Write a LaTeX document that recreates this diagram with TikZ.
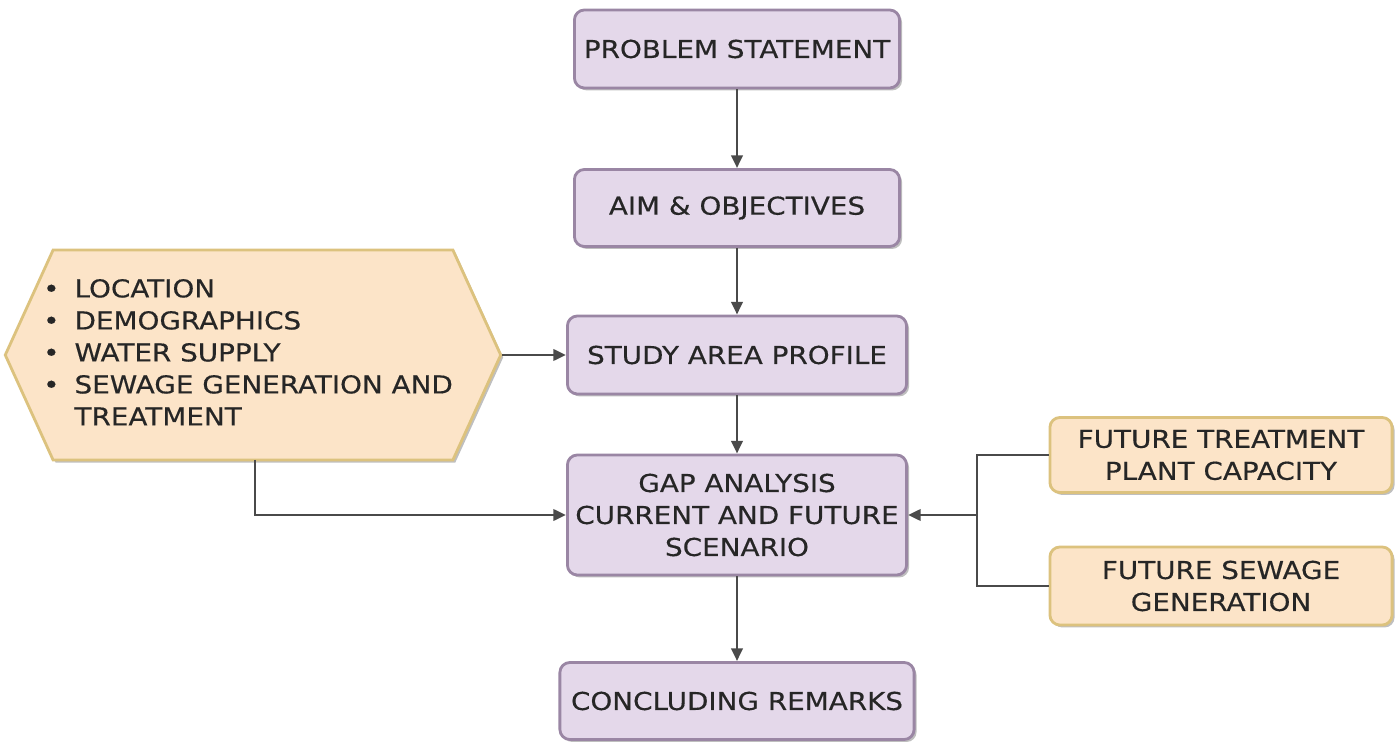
\documentclass[tikz,border=0pt]{standalone}
\usepackage{fontspec}
\setmainfont{DejaVu Sans}[FakeStretch=1.13,FakeBold=0.4]
\usetikzlibrary{arrows.meta,shapes.symbols,shadows}
\definecolor{pfill}{HTML}{E4D8EA}
\definecolor{pdraw}{HTML}{9A86A4}
\definecolor{ofill}{HTML}{FCE4C8}
\definecolor{odraw}{HTML}{DCC27E}
\definecolor{lcol}{HTML}{4A4A4A}
\begin{document}
\begin{tikzpicture}[x=0.01cm,y=-0.01cm,
  font=\fontsize{7}{9.1}\selectfont,
  shd/.style={drop shadow={shadow xshift=0.7pt,shadow yshift=-0.7pt,fill=black,opacity=0.25}},
  pbox/.style={draw=pdraw,fill=pfill,line width=0.8pt,rounded corners=0.1cm,align=center,inner sep=0pt,shd,text=black!85},
  obox/.style={draw=odraw,fill=ofill,line width=0.8pt,rounded corners=0.1cm,align=center,inner sep=0pt,shd,text=black!85},
  hexbox/.style={signal,signal to=west and east,signal pointer angle=131,draw=odraw,fill=ofill,line width=0.8pt,inner sep=0pt,shd,text=black!85},
  conn/.style={draw=lcol,line width=0.8pt,-{Triangle[length=3.6pt,width=3.2pt]}},
  plain/.style={draw=lcol,line width=0.8pt}]
\useasboundingbox (0,0) rectangle (1400,743);
\node[pbox,minimum width=3.25cm,minimum height=0.78cm] (ps) at (737,49) {PROBLEM STATEMENT};
\node[pbox,minimum width=3.25cm,minimum height=0.77cm] (aim) at (737,208) {AIM \& OBJECTIVES};
\node[pbox,minimum width=3.39cm,minimum height=0.78cm] (sap) at (737,355) {STUDY AREA PROFILE};
\node[pbox,minimum width=3.39cm,minimum height=1.20cm] (gap) at (737,515) {GAP ANALYSIS\\ CURRENT AND FUTURE\\ SCENARIO};
\node[pbox,minimum width=3.54cm,minimum height=0.77cm] (cr) at (737,701) {CONCLUDING REMARKS};
\node[obox,minimum width=3.42cm,minimum height=0.75cm] (ftpc) at (1221,455) {FUTURE TREATMENT\\ PLANT CAPACITY};
\node[obox,minimum width=3.42cm,minimum height=0.78cm] (fsg) at (1221,586) {FUTURE SEWAGE\\ GENERATION};
\node[hexbox,minimum width=4.93cm,minimum height=2.10cm] (hex) at (253,355) {%
\hspace*{-0.1cm}\begin{tabular}{@{}l@{\hspace{0.15cm}}l@{}}
\textbullet & LOCATION\\
\textbullet & DEMOGRAPHICS\\
\textbullet & WATER SUPPLY\\
\textbullet & SEWAGE GENERATION AND\\
 & TREATMENT
\end{tabular}};
\coordinate (hexB) at (255,460);
\coordinate (split) at (977,515);
\draw[conn] (ps) -- (aim);
\draw[conn] (aim) -- (sap);
\draw[conn] (sap) -- (gap);
\draw[conn] (gap) -- (cr);
\draw[conn] (hex.east) -- (sap.west);
\draw[conn] (hexB) |- (gap.west);
\draw[plain] (ftpc.west) -| (split) |- (fsg.west);
\draw[conn] (split) -- (gap.east);
\end{tikzpicture}
\end{document}
